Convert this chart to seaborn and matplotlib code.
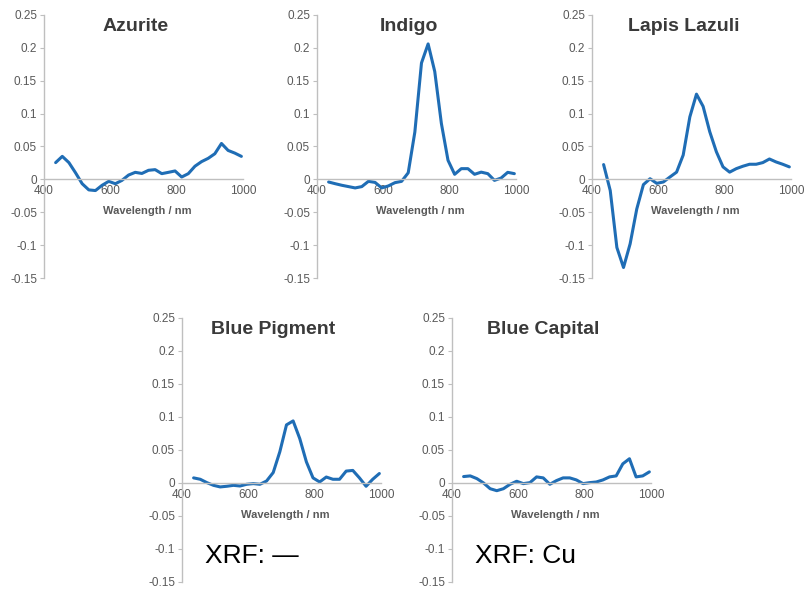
import numpy as np
import pandas as pd
import matplotlib
matplotlib.use("Agg")
import matplotlib.pyplot as plt
import seaborn as sns

# ----------------------------
# data
# ----------------------------
wavelength = [435, 455, 475, 495, 515, 535, 555, 575, 595, 615,
              635, 655, 675, 695, 715, 735, 755, 775, 795, 815,
              835, 855, 875, 895, 915, 935, 955, 975, 995]

azurite = [0.0255, 0.035, 0.0255, 0.010, -0.0066, -0.016, -0.017, -0.009, -0.003, -0.0066,
           -0.0015, 0.0066, 0.0107, 0.009, 0.0138, 0.0148, 0.0087, 0.0107, 0.0128, 0.0036,
           0.0087, 0.020, 0.027, 0.032, 0.039, 0.0546, 0.044, 0.040, 0.035]

indigo = [-0.004, -0.0066, -0.009, -0.011, -0.013, -0.011, -0.003, -0.0046, -0.013, -0.010,
          -0.005, -0.003, 0.010, 0.072, 0.177, 0.206, 0.164, 0.085, 0.029, 0.0077,
          0.0163, 0.0163, 0.0077, 0.011, 0.0087, -0.0015, 0.002, 0.0107, 0.0087]

lapis = [0.0225, -0.017, -0.1036, -0.134, -0.098, -0.045, -0.008, 0.001, -0.006, -0.004,
         0.0036, 0.011, 0.037, 0.095, 0.1296, 0.111, 0.0725, 0.042, 0.019, 0.011,
         0.0163, 0.020, 0.023, 0.023, 0.0255, 0.031, 0.0265, 0.023, 0.019]

blue_pigment = [0.0077, 0.0056, 0.0005, -0.0036, -0.006, -0.005, -0.0036, -0.0046, -0.002, -0.001,
                -0.002, 0.003, 0.0158, 0.0474, 0.088, 0.094, 0.0673, 0.032, 0.0077, 0.0015,
                0.009, 0.0056, 0.0056, 0.018, 0.019, 0.0077, -0.005, 0.0056, 0.0143]

blue_capital = [0.0097, 0.0107, 0.0066, 0.0, -0.0087, -0.0117, -0.0087, -0.002, 0.0026, -0.001,
                0.0005, 0.0092, 0.0077, -0.002, 0.0036, 0.0077, 0.0077, 0.0046, -0.001, 0.0005,
                0.0015, 0.0046, 0.0092, 0.0107, 0.029, 0.0367, 0.0092, 0.0107, 0.0168]

titles = ["Azurite", "Indigo", "Lapis Lazuli", "Blue Pigment", "Blue Capital"]
series = [azurite, indigo, lapis, blue_pigment, blue_capital]
xrf_notes = {"Blue Pigment": "XRF: \u2014", "Blue Capital": "XRF: Cu"}

y_ticks = [-0.15, -0.1, -0.05, 0, 0.05, 0.1, 0.15, 0.2, 0.25]
y_tick_labels = ["-0.15", "-0.1", "-0.05", "0", "0.05", "0.1", "0.15", "0.2", "0.25"]
x_ticks = [400, 600, 800, 1000]

# axes boxes in figure fractions [left, bottom, width, height]
boxes = [
    [0.0547, 0.5288, 0.2472, 0.4458],
    [0.3938, 0.5288, 0.2472, 0.4458],
    [0.7354, 0.5288, 0.2472, 0.4458],
    [0.2261, 0.0136, 0.2472, 0.4475],
    [0.5615, 0.0136, 0.2472, 0.4475],
]

sns.set_style("white")
plt.rcParams["font.family"] = ["Liberation Sans", "DejaVu Sans"]

line_color = "#1f6db5"
spine_color = "#bfbfbf"
tick_color = "#595959"

fig = plt.figure(figsize=(8.05, 5.90), dpi=100)

for title, values, box in zip(titles, series, boxes):
    ax = fig.add_axes(box)
    df = pd.DataFrame({"Wavelength": wavelength, "Value": values})

    sns.lineplot(data=df, x="Wavelength", y="Value", color=line_color,
                 linewidth=2.2, sort=False, ax=ax)

    ax.set_xlim(400, 1000)
    ax.set_ylim(-0.15, 0.25)
    ax.set_yticks(y_ticks)
    ax.set_yticklabels(y_tick_labels)
    ax.set_xticks(x_ticks)
    ax.set_xlabel("")
    ax.set_ylabel("")

    ax.spines["top"].set_visible(False)
    ax.spines["right"].set_visible(False)
    ax.spines["bottom"].set_position(("data", 0))
    for s in ["left", "bottom"]:
        ax.spines[s].set_color(spine_color)
        ax.spines[s].set_linewidth(1.0)

    ax.tick_params(axis="y", left=True, length=3, width=0.8, pad=2,
                   color=spine_color, labelcolor=tick_color, labelsize=8.5)
    ax.tick_params(axis="x", bottom=False, length=0, pad=4,
                   labelcolor=tick_color, labelsize=8.5)

    ax.text(0.46, 0.955, title, transform=ax.transAxes, ha="center", va="center",
            fontsize=14, fontweight="bold", color="#3a3a3a")
    ax.text(0.52, 0.253, "Wavelength / nm", transform=ax.transAxes, ha="center",
            va="center", fontsize=8, fontweight="bold", color=tick_color)

    if title in xrf_notes:
        ax.text(0.115, 0.072, xrf_notes[title], transform=ax.transAxes, ha="left",
                va="baseline", fontsize=19, color="black")

fig.savefig("out.png", dpi=100)
